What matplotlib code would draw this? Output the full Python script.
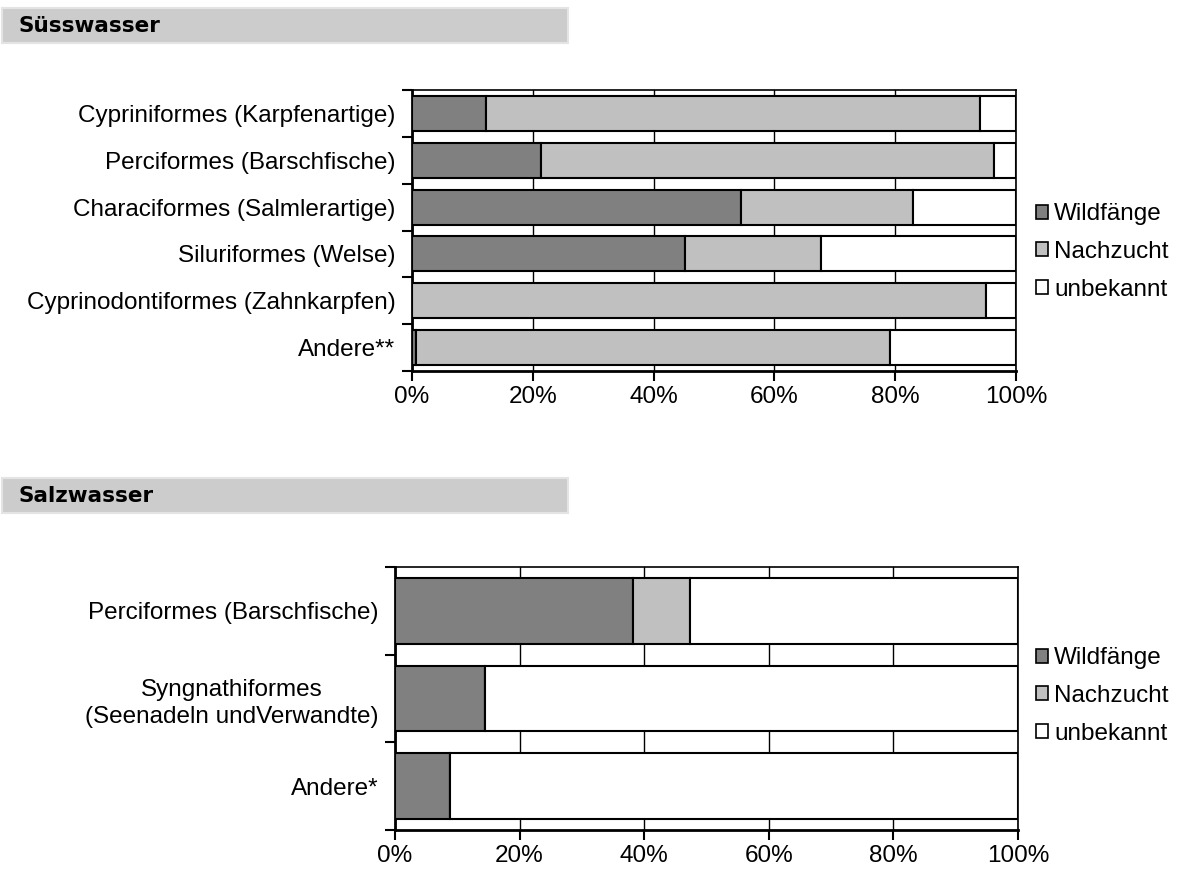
import numpy as np
import matplotlib.pyplot as plt
from matplotlib.patches import Rectangle, Patch

plt.rcParams['font.family'] = ['Liberation Sans', 'DejaVu Sans']

# Anteile in Prozent (Wildfänge / Nachzucht, Rest = unbekannt)
suess_labels = ['Cypriniformes (Karpfenartige)', 'Perciformes (Barschfische)',
                'Characiformes (Salmlerartige)', 'Siluriformes (Welse)',
                'Cyprinodontiformes (Zahnkarpfen)', 'Andere**']
suess_wild = [12.2, 21.4, 54.5, 45.2, 0.0, 0.7]
suess_zucht = [81.8, 74.9, 28.4, 22.5, 95.1, 78.4]

salz_labels = ['Perciformes (Barschfische)',
               'Syngnathiformes\n(Seenadeln undVerwandte)', 'Andere*']
salz_wild = [38.2, 14.4, 8.9]
salz_zucht = [9.2, 0.0, 0.0]

legend_names = ['Wildfänge', 'Nachzucht', 'unbekannt']
colors = ['#808080', '#c0c0c0', '#ffffff']
xticks = [0, 20, 40, 60, 80, 100]
FS = 17.5

W, H = 1185, 893
fig = plt.figure(figsize=(W / 100, H / 100), dpi=100)


def px_axes(left, top, right, bottom):
    return fig.add_axes([left / W, 1 - bottom / H, (right - left) / W, (bottom - top) / H])


def header(text, top):
    fig.add_artist(Rectangle((2 / W, 1 - (top + 35) / H), 566 / W, 35 / H,
                             transform=fig.transFigure, facecolor='#cccccc',
                             edgecolor='#e4e4e4', lw=1.5))
    fig.text(18 / W, 1 - (top + 18) / H, text, fontsize=15.5, fontweight='bold',
             family='DejaVu Sans', va='center', ha='left')


def panel(ax, labels, wild, zucht):
    n = len(labels)
    y = np.arange(n)[::-1]
    wild = np.array(wild)
    zucht = np.array(zucht)
    unb = 100 - wild - zucht
    lefts = [np.zeros(n), wild, wild + zucht]
    for vals, left, c in zip([wild, zucht, unb], lefts, colors):
        ax.barh(y, vals, left=left, height=0.75, color=c, edgecolor='black', lw=1.5, zorder=3)
    ax.set_xlim(0, 100)
    ax.set_ylim(-0.5, n - 0.5)
    ax.set_xticks(xticks)
    ax.set_xticklabels([f'{t}%' for t in xticks], fontsize=FS)
    ax.set_yticks(np.arange(n + 1) - 0.5)
    ax.set_yticklabels([])
    ax.set_yticks(y, minor=True)
    ax.set_yticklabels(labels, minor=True, fontsize=FS, ha='right',
                       multialignment='center', linespacing=1.3)
    ax.tick_params(axis='y', which='minor', length=0, pad=12)
    ax.tick_params(axis='both', which='major', direction='out', length=7, width=1.5)
    ax.tick_params(axis='x', pad=4)
    ax.grid(axis='x', color='black', lw=1)
    ax.set_axisbelow(True)
    for s in ['left', 'bottom']:
        ax.spines[s].set_linewidth(2)
    for s in ['top', 'right']:
        ax.spines[s].set_linewidth(1.2)
    handles = [Patch(facecolor=c, edgecolor='black', lw=1.2) for c in colors]
    return handles


def legend(handles, y_center):
    fig.legend(handles, legend_names, loc='center left', bbox_to_anchor=(1026 / W, 1 - y_center / H),
               frameon=False, fontsize=FS, handlelength=0.5, handleheight=0.5,
               handletextpad=0.25, labelspacing=0.65, borderaxespad=0)


header('Süsswasser', 8)
ax1 = px_axes(412, 90, 1016, 371)
legend(panel(ax1, suess_labels, suess_wild, suess_zucht), 252)

header('Salzwasser', 478)
ax2 = px_axes(395, 567, 1018, 830)
legend(panel(ax2, salz_labels, salz_wild, salz_zucht), 696)

fig.savefig('out.png', dpi=100)
